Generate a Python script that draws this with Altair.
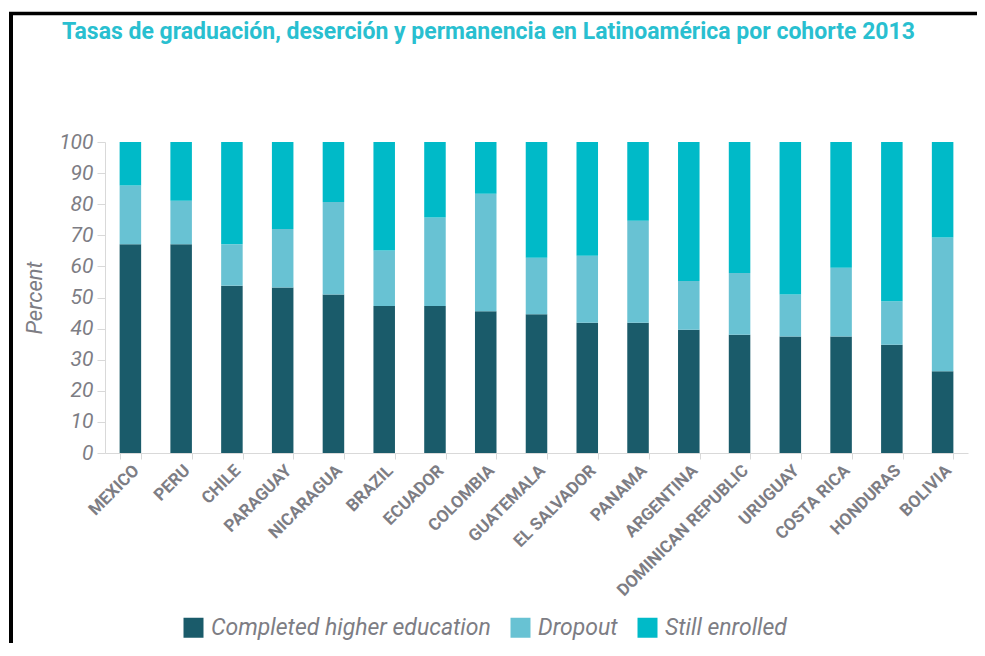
import altair as alt
import pandas as pd

countries = ["MEXICO", "PERU", "CHILE", "PARAGUAY", "NICARAGUA", "BRAZIL", "ECUADOR",
             "COLOMBIA", "GUATEMALA", "EL SALVADOR", "PANAMA", "ARGENTINA",
             "DOMINICAN REPUBLIC", "URUGUAY", "COSTA RICA", "HONDURAS", "BOLIVIA"]
completed = [67.1, 67.1, 53.8, 53.2, 51.0, 47.3, 47.3, 45.6, 44.6, 41.9, 41.9, 39.6, 38.0, 37.5, 37.5, 34.8, 26.3]
dropout = [18.9, 14.0, 13.3, 18.8, 29.7, 17.8, 28.4, 37.8, 18.2, 21.5, 32.8, 15.7, 19.9, 13.5, 22.1, 14.0, 43.0]
enrolled = [14.0, 18.9, 32.9, 28.0, 19.3, 34.9, 24.3, 16.6, 37.2, 36.6, 25.3, 44.7, 42.1, 49.0, 40.4, 51.2, 30.7]
categories = ["Completed higher education", "Dropout", "Still enrolled"]
colors = ["#1a5b6a", "#68c2d3", "#00bac8"]
y_ticks = list(range(0, 101, 10))
title_text = "Tasas de graduación, deserción y permanencia en Latinoamérica por cohorte 2013"

rows = []
for i, c in enumerate(countries):
    for k, (cat, vals) in enumerate(zip(categories, [completed, dropout, enrolled])):
        rows.append({"country": c, "category": cat, "value": vals[i], "order": k})
df = pd.DataFrame(rows)

FONT = "Roboto"
GRAY = "#7d7d84"
LINE = "#d9d9d9"

bars = alt.Chart(df).mark_bar().encode(
    x=alt.X("country:N", sort=countries,
            scale=alt.Scale(paddingInner=0.576, paddingOuter=0.288),
            axis=alt.Axis(title=None, labelAngle=-45, labelFont=FONT, labelFontSize=17,
                          labelFontWeight="bold", labelColor=GRAY, tickBand="extent",
                          domainColor=LINE, tickColor=LINE, tickSize=6, labelPadding=3,
                          labelOverlap=False, labelLimit=300)),
    y=alt.Y("value:Q", stack="zero", scale=alt.Scale(domain=[0, 100], nice=False),
            axis=alt.Axis(title="Percent", values=y_ticks, grid=False, labelFont=FONT,
                          labelFontSize=21, labelFontStyle="italic", labelColor=GRAY,
                          domainColor=LINE, tickColor=LINE, tickSize=8, labelPadding=4,
                          titleFont=FONT, titleFontSize=22, titleFontStyle="italic",
                          titleFontWeight="normal", titleColor=GRAY, titlePadding=12)),
    color=alt.Color("category:N", scale=alt.Scale(domain=categories, range=colors),
                    legend=alt.Legend(title=None, orient="none", legendX=77, legendY=474,
                                      direction="horizontal", symbolType="square",
                                      symbolSize=400, symbolStrokeWidth=0,
                                      labelFont=FONT, labelFontSize=23, labelFontStyle="italic",
                                      labelColor=GRAY, labelOffset=6, columnPadding=18,
                                      labelLimit=400)),
    order=alt.Order("order:Q"),
)

frame_df = pd.DataFrame({"k": [0]})
left_border = alt.Chart(frame_df).mark_rule(color="black", strokeWidth=4).encode(
    x=alt.value(-94), y=alt.value(-130), y2=alt.value(520))
top_border = alt.Chart(frame_df).mark_rule(color="black", strokeWidth=3.5).encode(
    y=alt.value(-128.5), x=alt.value(-96), x2=alt.value(900))

chart = alt.layer(bars, left_border, top_border).properties(
    width=863, height=311,
    autosize=alt.AutoSizeParams(type="none"),
    padding={"left": 97, "top": 134, "right": 9, "bottom": 190},
    title=alt.Title(title_text, anchor="start", frame="group", dx=-43, dy=38,
                    font=FONT, fontSize=23, fontWeight="bold", color="#29bfd0"),
).configure_view(stroke=None)

chart.save("out.html", embed_options={"renderer": "svg", "actions": False})
